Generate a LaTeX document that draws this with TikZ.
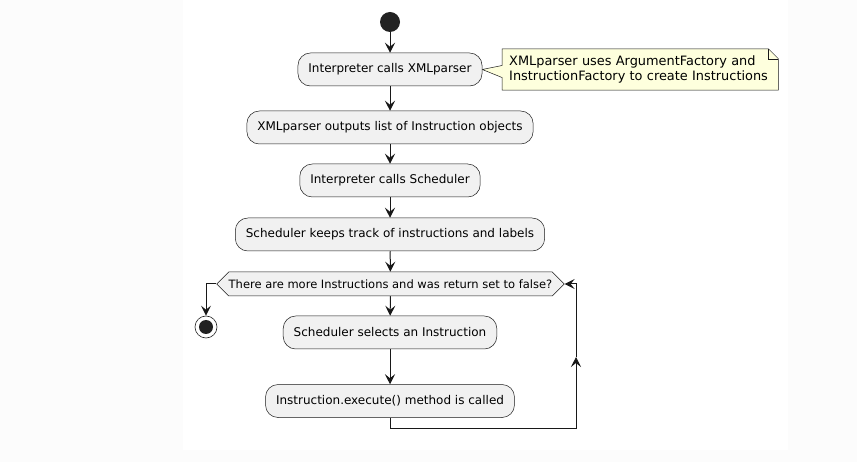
\documentclass[tikz,border=0pt]{standalone}
\usepackage{fontspec}
\setmainfont{DejaVu Sans}
\usepackage{tikz}
\usetikzlibrary{
  arrows.meta, positioning, calc, shapes.symbols, backgrounds
}
\definecolor{ink}{HTML}{181818}
\definecolor{dotink}{HTML}{222222}
\definecolor{actfill}{HTML}{F1F1F1}
\definecolor{notefill}{HTML}{FEFFDD}
\definecolor{pagebg}{HTML}{FCFCFC}

\begin{document}
\begin{tikzpicture}[
  x=1pt, y=-1pt,
  act/.style={
    draw=ink, fill=actfill, rounded corners=12.5pt, line width=0.5pt,
    minimum height=33pt, inner xsep=10.5pt, font=\fontsize{12}{14}\selectfont
  },
  decide/.style={
    signal, signal to=west and east, signal pointer angle=90,
    draw=ink, fill=actfill, line width=0.5pt, minimum height=24pt,
    inner xsep=0pt, font=\fontsize{11.5}{13}\selectfont
  },
  notebox/.style={
    minimum height=41pt, text width=262pt, inner xsep=7pt, align=left,
    font=\fontsize{12.9}{15}\selectfont
  },
  arrow/.style={-{Stealth[length=10pt, width=10pt, inset=4pt]}, ink, line width=1pt},
  startdot/.style={circle, fill=dotink, minimum size=20pt, inner sep=0pt},
  stopdot/.style={
    circle, draw=dotink, fill=white, line width=0.6pt, minimum size=22pt, inner sep=0pt,
    path picture={\fill[dotink] (path picture bounding box.center) circle (7pt);}
  }
]
  \useasboundingbox (0,0) rectangle (857,462);

  % Activity steps
  \node[startdot] (start) at (390,22) {};
  \node[act] (interp) at (390,69.5) {Interpreter calls XMLparser};
  \node[act] (xmlout) at (390,127.5) {XMLparser outputs list of Instruction objects};
  \node[act] (callsched) at (390,180.5) {Interpreter calls Scheduler};
  \node[act] (keeps) at (390,234.5) {Scheduler keeps track of instructions and labels};
  \node[decide] (more) at (390.5,284) {There are more Instructions and was return set to false?};
  \node[stopdot] (stop) at (206,327) {};
  \node[act] (selects) at (390,332.5) {Scheduler selects an Instruction};
  \node[act] (exec) at (390,401) {Instruction.execute() method is called};

  % Note beside the first step
  \node[notebox, anchor=west] (note) at (502,69.5)
    {XMLparser uses ArgumentFactory and\\InstructionFactory to create Instructions};

  \coordinate (loopbot) at (576,428);
  \coordinate (loopmid) at (576,357);
  \coordinate (looptop) at (576,284);

  % Flow
  \draw[arrow] (start) -- (interp);
  \draw[arrow] (interp) -- (xmlout);
  \draw[arrow] (xmlout) -- (callsched);
  \draw[arrow] (callsched) -- (keeps);
  \draw[arrow] (keeps) -- (more);
  \draw[arrow] (more.west) -| (stop);
  \draw[arrow] (more) -- (selects);
  \draw[arrow] (selects) -- (exec);

  % Loop back
  \draw[arrow] (exec.south) |- (loopbot) -- (loopmid);
  \draw[arrow] (loopmid) -- (looptop) -- (more.east);

  \begin{scope}[on background layer]
    \fill[pagebg] (0,0) rectangle (857,462);
    \fill[white] (183,0) rectangle (788,450);
    \draw[ink, fill=notefill, line width=0.5pt]
      (note.north west) -- ($(note.north east)+(-10,0)$) -- ($(note.north east)+(0,10)$)
      -- (note.south east) -- (note.south west) -- ($(note.west)+(0,8)$)
      -- (interp.east) -- ($(note.west)+(0,-4)$) -- cycle;
    \draw[ink, line width=0.5pt] ($(note.north east)+(-10,0)$) |- ($(note.north east)+(0,10)$);
  \end{scope}
\end{tikzpicture}
\end{document}
